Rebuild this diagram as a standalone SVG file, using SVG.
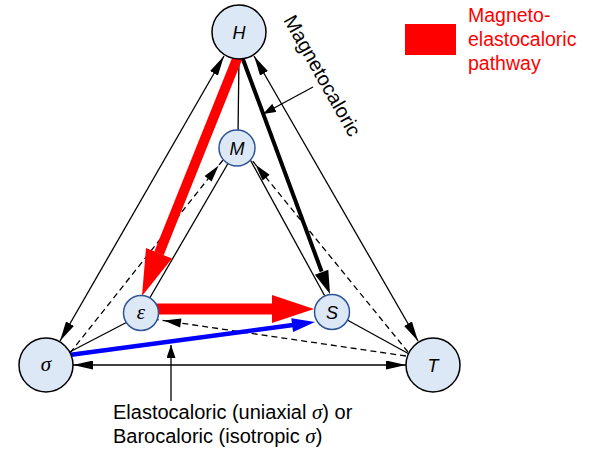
<svg xmlns="http://www.w3.org/2000/svg" width="600" height="457" viewBox="0 0 600 457">
<style>
.big{fill:#dce8f5;stroke:#000;stroke-width:1.5}
.small{fill:#dce8f5;stroke:#2f5597;stroke-width:1.5}
.lbl{font-family:"Liberation Sans",Arial,sans-serif;font-style:italic;font-size:18px;text-anchor:middle;fill:#000}
.glbl{font-family:"Liberation Serif","Times New Roman",serif;font-style:italic;font-size:21px;text-anchor:middle;fill:#000}
.ln{stroke:#000;stroke-width:1.3;fill:none}
.dash{stroke:#000;stroke-width:1.3;fill:none;stroke-dasharray:6,4}
.txt{font-family:"Liberation Sans",Arial,sans-serif;font-size:20px;fill:#000}
.red{font-family:"Liberation Sans",Arial,sans-serif;font-size:19.5px;fill:#ff0000}
.gk{font-family:"Liberation Serif","Times New Roman",serif;font-style:italic;font-size:21px}
</style>
<defs>
<marker id="ah" viewBox="0 0 20 9" refX="20" refY="4.5" markerWidth="20" markerHeight="9" markerUnits="userSpaceOnUse" orient="auto-start-reverse"><path d="M0,0 L20,4.5 L0,9 z" fill="#000"/></marker>
<marker id="ahd" viewBox="0 0 26 9" refX="24" refY="4.5" markerWidth="26" markerHeight="9" markerUnits="userSpaceOnUse" orient="auto" overflow="visible"><path d="M0,0 L17,4.5 L0,9 z" fill="#000"/></marker>
<marker id="ahs" viewBox="0 0 13 9" refX="13" refY="4.5" markerWidth="13" markerHeight="9" markerUnits="userSpaceOnUse" orient="auto"><path d="M0,0 L13,4.5 L0,9 z" fill="#000"/></marker>
</defs>
<g id="connectors">
<line class="ln" x1="224" y1="56" x2="60" y2="341" marker-start="url(#ah)" marker-end="url(#ah)"/>
<line class="ln" x1="254" y1="56" x2="418" y2="341" marker-start="url(#ah)" marker-end="url(#ah)"/>
<line class="ln" x1="73" y1="365" x2="406" y2="365" marker-start="url(#ah)" marker-end="url(#ah)"/>
<line class="ln" x1="239" y1="55" x2="238" y2="135"/>
<line class="ln" x1="60" y1="357" x2="135" y2="318"/>
<line class="ln" x1="420" y1="360" x2="340" y2="316"/>
<line class="ln" x1="237" y1="148" x2="141" y2="313"/>
<line class="ln" x1="246" y1="152" x2="327" y2="300"/>
<line class="dash" x1="70" y1="353" x2="223" y2="160" marker-end="url(#ahd)"/>
<line class="dash" x1="408" y1="352" x2="251" y2="159" marker-end="url(#ahd)"/>
<line class="dash" x1="406" y1="356" x2="157" y2="319.6" marker-end="url(#ahd)"/>
<line x1="241" y1="54" x2="321.6" y2="271.5" stroke="#000" stroke-width="4"/>
<polygon points="330,294 314.9,274.7 328.3,269.8" fill="#000"/>
<line x1="241" y1="49" x2="159" y2="253.3" stroke="#ff0000" stroke-width="10"/>
<polygon points="142,296 146,248.1 172,258.5" fill="#ff0000"/>
<line x1="150" y1="309" x2="273" y2="309" stroke="#ff0000" stroke-width="11"/>
<polygon points="272,295 314,309 272,323" fill="#ff0000"/>
<line x1="60" y1="356.2" x2="293" y2="325" stroke="#0000ff" stroke-width="4.5"/>
<polygon points="315,322 291.3,318.2 293.1,332" fill="#0000ff"/>
<line class="ln" x1="313" y1="87" x2="263" y2="114" marker-end="url(#ahs)"/>
<line class="ln" x1="171" y1="401" x2="171" y2="345" marker-end="url(#ahs)"/>
</g>
<g id="node-H"><circle class="big" cx="239" cy="32" r="27"/><text class="lbl" x="239" y="39">H</text></g>
<g id="node-sigma"><circle class="big" cx="46" cy="365" r="27"/><text class="glbl" x="46" y="371">σ</text></g>
<g id="node-T"><circle class="big" cx="433" cy="365" r="27"/><text class="lbl" x="433" y="372">T</text></g>
<g id="node-M"><circle class="small" cx="237" cy="148" r="18"/><text class="lbl" x="237" y="155">M</text></g>
<g id="node-epsilon"><circle class="small" cx="141" cy="313" r="17.5"/><text class="glbl" x="141" y="319">ε</text></g>
<g id="node-S"><circle class="small" cx="332" cy="312" r="17.5"/><text class="lbl" x="332" y="319">S</text></g>
<g id="label-magnetocaloric"><text class="txt" transform="translate(283,20) rotate(60.5)">Magnetocaloric</text></g>
<g id="label-elastocaloric">
<text class="txt" x="113" y="419">Elastocaloric (uniaxial <tspan class="gk">σ</tspan>) or</text>
<text class="txt" x="113" y="443">Barocaloric (isotropic <tspan class="gk">σ</tspan>)</text>
</g>
<g id="legend">
<rect x="405" y="24" width="51" height="31" fill="#ff0000"/>
<text class="red" x="468" y="22">Magneto-</text>
<text class="red" x="468" y="46">elastocaloric</text>
<text class="red" x="468" y="70">pathway</text>
</g>
</svg>
